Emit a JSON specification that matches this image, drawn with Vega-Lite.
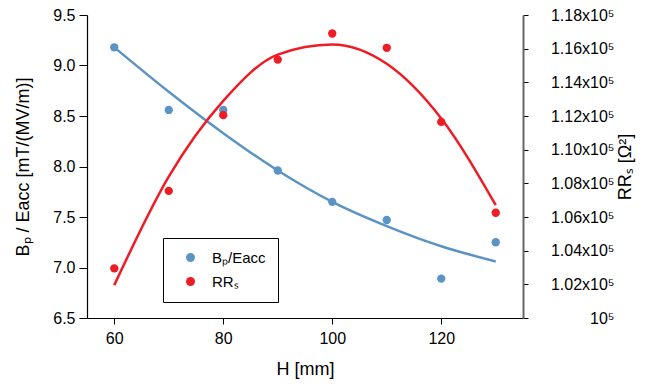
{
  "$schema": "https://vega.github.io/schema/vega-lite/v6.json",
  "autosize": "none",
  "width": 436,
  "height": 303,
  "padding": {"left": 87, "top": 15, "right": 124, "bottom": 68},
  "background": "white",
  "config": {
    "view": {"stroke": null},
    "font": "Liberation Sans",
    "axis": {"grid": false, "labelFont": "Liberation Sans", "titleFont": "Liberation Sans", "labelFontSize": 16, "titleFontSize": 18, "titleFontWeight": "normal", "labelColor": "black", "titleColor": "black", "domainColor": "black", "tickColor": "black"},
    "legend": {"labelFont": "Liberation Sans", "labelFontSize": 15, "labelColor": "black"}
  },
  "data": {
    "values": [
      {"H": 60, "bp": 9.18, "bpfit": 9.18, "rr": 102950, "rrfit": 101950},
      {"H": 70, "bp": 8.56, "bpfit": 8.74, "rr": 107550, "rrfit": 108400},
      {"H": 80, "bp": 8.56, "bpfit": 8.33, "rr": 112050, "rrfit": 112900},
      {"H": 90, "bp": 7.96, "bpfit": 7.96, "rr": 115350, "rrfit": 115650},
      {"H": 100, "bp": 7.65, "bpfit": 7.65, "rr": 116900, "rrfit": 116250},
      {"H": 110, "bp": 7.47, "bpfit": 7.41, "rr": 116050, "rrfit": 115100},
      {"H": 120, "bp": 6.89, "bpfit": 7.21, "rr": 111650, "rrfit": 111850},
      {"H": 130, "bp": 7.25, "bpfit": 7.06, "rr": 106250, "rrfit": 106700}
    ]
  },
  "encoding": {
    "x": {"field": "H", "type": "quantitative", "scale": {"domain": [55, 135], "nice": false, "zero": false},
      "axis": {"title": "H [mm]", "values": [60, 80, 100, 120], "tickSize": 6, "labelPadding": 6, "titlePadding": 14, "domainWidth": 1.2}}
  },
  "layer": [
    {
      "layer": [
        {"mark": {"type": "line", "strokeWidth": 2.5, "color": "#5b94c4", "interpolate": "monotone"},
         "encoding": {"y": {"field": "bpfit", "type": "quantitative"}}},
        {"mark": {"type": "point", "filled": true, "size": 70, "opacity": 1},
         "encoding": {"y": {"field": "bp", "type": "quantitative"},
           "color": {"datum": "Bₚ/Eacc", "type": "nominal"}}}
      ],
      "encoding": {
        "y": {"type": "quantitative", "scale": {"domain": [6.5, 9.5], "nice": false, "zero": false},
          "axis": {"title": "Bₚ / Eacc [mT/(MV/m)]", "values": [6.5, 7.0, 7.5, 8.0, 8.5, 9.0, 9.5], "format": ".1f", "tickSize": 8, "labelPadding": 4, "titlePadding": 20, "domainWidth": 1.2}}
      }
    },
    {
      "layer": [
        {"mark": {"type": "line", "strokeWidth": 2.5, "color": "#ee1c25", "interpolate": "monotone"},
         "encoding": {"y": {"field": "rrfit", "type": "quantitative"}}},
        {"mark": {"type": "point", "filled": true, "size": 70, "opacity": 1},
         "encoding": {"y": {"field": "rr", "type": "quantitative"},
           "color": {"datum": "RRₛ", "type": "nominal",
             "scale": {"domain": ["Bₚ/Eacc", "RRₛ"], "range": ["#5b94c4", "#ee1c25"]},
             "legend": {"title": null, "orient": "none", "legendX": 76, "legendY": 223, "strokeColor": "black", "padding": 12, "symbolSize": 80, "rowPadding": 8, "labelOffset": 14, "symbolOffset": 8}}}}
      ],
      "encoding": {
        "y": {"type": "quantitative", "scale": {"domain": [100000, 118000], "nice": false, "zero": false},
          "axis": {"orient": "right", "title": "RRₛ [Ω²]", "titleAngle": 270, "values": [100000, 102000, 104000, 106000, 108000, 110000, 112000, 114000, 116000, 118000],
            "labelExpr": "datum.value == 100000 ? '10⁵' : format(datum.value/100000, '.2f') + 'x10⁵'",
            "labelAlign": "right", "labelPadding": 86, "tickSize": 5, "domainColor": "#666666", "domainWidth": 2, "titlePadding": 20}}
      }
    }
  ],
  "resolve": {"scale": {"y": "independent"}}
}
